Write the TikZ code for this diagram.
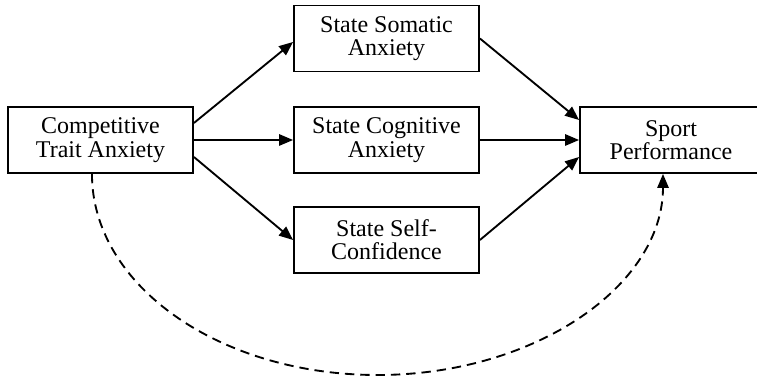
\documentclass[tikz,border=0pt]{standalone}
\usepackage{fontspec}
\setmainfont{Liberation Serif}
\usetikzlibrary{arrows.meta}

\tikzset{
  box/.style={draw, line width=1.4pt, rectangle, inner sep=0pt, align=center,
    minimum width=138.75pt, minimum height=49.5pt,
    font=\fontsize{18pt}{17.5pt}\selectfont},
  link/.style={line width=1.4pt, -{Triangle[length=10.5pt,width=8.5pt]}},
  pathlink/.style={link, dash pattern=on 7pt off 4.5pt}
}

\begin{document}
\begin{tikzpicture}[x=0.75pt,y=-0.75pt]
  \useasboundingbox (0,0) rectangle (757,377);
  \clip (0,0) rectangle (757,377);

  % boxes
  \node[box] (trait) at (100.5,140) {Competitive\\Trait Anxiety};
  \node[box] (soma)  at (386.5,38.5) {State Somatic\\Anxiety};
  \node[box] (cogn)  at (386.5,140) {State Cognitive\\Anxiety};
  \node[box] (conf)  at (386.5,240) {State Self-\\Confidence};
  \node[box, minimum width=136.5pt] (perf) at (671,140) {Sport\\Performance};

  % trait anxiety to the three state measures
  \draw[link] ([yshift=12.75pt]trait.east) -- ([yshift=-2.6pt]soma.west);
  \draw[link] (trait.east) -- (cogn.west);
  \draw[link] ([yshift=-12.75pt]trait.east) -- (conf.west);

  % state measures to performance
  \draw[link] (soma.east) -- ([yshift=15pt]perf.west);
  \draw[link] (cogn.east) -- (perf.west);
  \draw[link] (conf.east) -- ([yshift=-12.75pt]perf.west);

  % direct path along the bottom
  \coordinate (low) at (377.5,375);
  \draw[pathlink] ([xshift=-6.4pt]trait.south)
    .. controls +(0,111.6) and +(-157.7,0) .. (low)
    .. controls +(157.7,0) and +(0,111.6) .. ([xshift=-6pt]perf.south);
\end{tikzpicture}
\end{document}
